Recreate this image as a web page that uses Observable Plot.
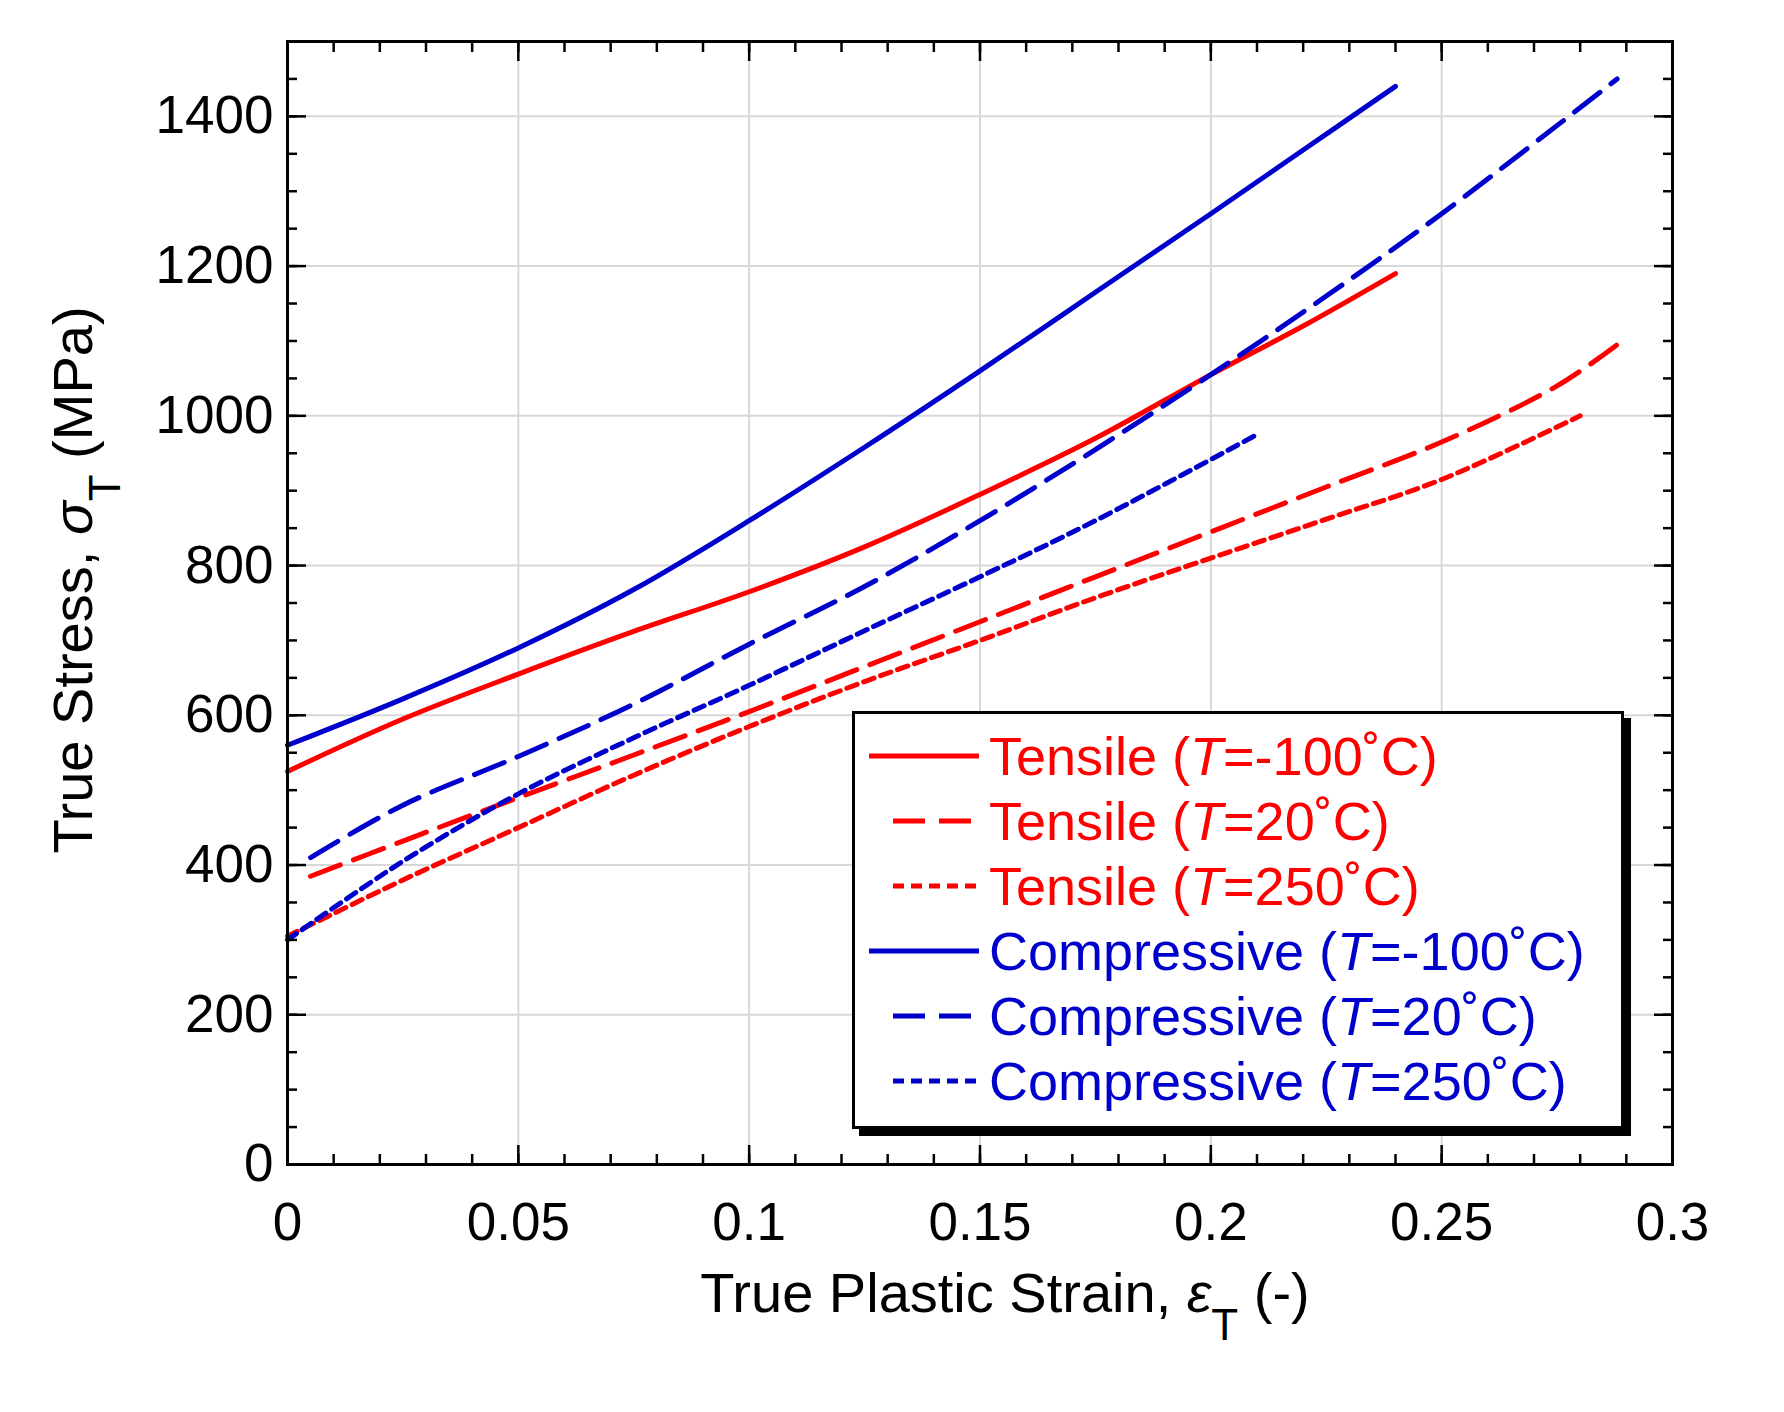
<!DOCTYPE html>
<html><head><meta charset="utf-8">
<script src="https://cdn.jsdelivr.net/npm/d3@7"></script>
<script src="https://cdn.jsdelivr.net/npm/@observablehq/plot@0.6"></script>
<style>
body{margin:0;background:#fff;font-family:"Liberation Sans",Arial,sans-serif}
#wrap{position:relative;width:1784px;height:1412px}
#legend{position:absolute;left:852px;top:711px;width:772px;height:418px;border:3px solid #000;background:#fff;box-shadow:7px 7px 0 #000;box-sizing:border-box}
</style></head><body>
<div id="wrap"><div id="chart"></div><div id="legend"></div></div>
<script>
const seriesNames = [["Tensile","-100˚C"],["Tensile","20˚C"],["Tensile","250˚C"],["Compressive","-100˚C"],["Compressive","20˚C"],["Compressive","250˚C"]];
const colors = ["#ff0000","#ff0000","#ff0000","#0000cc","#0000cc","#0000cc"];
const dashes = ["none","32,14","11,7","none","32,14","11,7"];
const tensileM100X = [0,0.025,0.05,0.075,0.1,0.125,0.15,0.175,0.2,0.22,0.24];
const tensileM100Y = [525,595,655,712,765,825,895,970,1055,1120,1190];
const tensile20X = [0.005,0.025,0.05,0.075,0.1,0.125,0.15,0.175,0.2,0.225,0.25,0.275,0.288];
const tensile20Y = [385,432,490,547,605,665,725,785,845,905,965,1040,1095];
const tensile250X = [0,0.025,0.05,0.075,0.1,0.125,0.15,0.175,0.2,0.225,0.25,0.28];
const tensile250Y = [305,380,450,520,585,645,700,757,810,862,915,1000];
const compM100X = [0,0.025,0.05,0.075,0.1,0.125,0.15,0.175,0.2,0.22,0.24];
const compM100Y = [560,622,690,768,860,958,1060,1165,1270,1355,1440];
const comp20X = [0.005,0.025,0.05,0.075,0.1,0.125,0.15,0.175,0.2,0.225,0.25,0.288];
const comp20Y = [410,480,545,615,695,772,860,955,1055,1160,1270,1450];
const comp250X = [0,0.025,0.05,0.075,0.1,0.125,0.15,0.175,0.21];
const comp250Y = [300,405,495,570,640,713,785,860,975];
const xs=[tensileM100X,tensile20X,tensile250X,compM100X,comp20X,comp250X];
const ys=[tensileM100Y,tensile20Y,tensile250Y,compM100Y,comp20Y,comp250Y];
const xMajor=[0,0.05,0.1,0.15,0.2,0.25,0.3], xMinor=d3.range(0,0.3001,0.01);
const yMajor=d3.range(0,1401,200), yMinor=d3.range(0,1501,50);
const lines = xs.map((x,i)=>Plot.line(x.map((v,j)=>({x:v,y:ys[i][j]})),{x:"x",y:"y",stroke:colors[i],strokeWidth:5,strokeDasharray:dashes[i],curve:"catmull-rom"}));
const tickAxes=[];
for(const a of ["bottom","top"]){tickAxes.push(Plot.axisX(xMinor,{anchor:a,tickSize:-10,text:null,label:null,strokeWidth:2.5}),Plot.axisX(xMajor,{anchor:a,tickSize:-19,text:null,label:null,strokeWidth:2.5}));}
for(const a of ["left","right"]){tickAxes.push(Plot.axisY(yMinor,{anchor:a,tickSize:-10,text:null,label:null,strokeWidth:2.5}),Plot.axisY(yMajor,{anchor:a,tickSize:-19,text:null,label:null,strokeWidth:2.5}));}
const chart = Plot.plot({
  width:1784,height:1412,marginLeft:287,marginRight:112,marginTop:41,marginBottom:248,
  style:{fontFamily:"Liberation Sans, Arial, sans-serif",fontSize:"53px",color:"#000",background:"#fff"},
  x:{domain:[0,0.3],label:null},y:{domain:[0,1500],label:null},
  marks:[
    Plot.gridX(xMajor,{stroke:"#d8d8d8",strokeOpacity:1,strokeWidth:2}),
    Plot.gridY(yMajor,{stroke:"#d8d8d8",strokeOpacity:1,strokeWidth:2}),
    ...lines,
    ...tickAxes,
    Plot.axisX(xMajor,{anchor:"bottom",tickSize:0,tickPadding:38,tickFormat:d=>String(d),label:null}),
    Plot.axisY(yMajor,{anchor:"left",tickSize:0,tickPadding:14,tickFormat:d=>String(d),label:null}),
    Plot.frame({stroke:"#000",strokeWidth:3})
  ]
});
document.getElementById("chart").append(chart);
const svg=d3.select(chart);
const xl=svg.append("text").attr("x",1005).attr("y",1312).attr("text-anchor","middle").attr("font-size",56).attr("fill","#000");
xl.append("tspan").text("True Plastic Strain, ");
xl.append("tspan").attr("font-style","italic").text("ε");
xl.append("tspan").attr("dy",28).attr("font-size",44).text("T");
xl.append("tspan").attr("dy",-28).text(" (-)");
const yl=svg.append("text").attr("transform","translate(92,580) rotate(-90)").attr("text-anchor","middle").attr("font-size",56).attr("fill","#000");
yl.append("tspan").text("True Stress, ");
yl.append("tspan").attr("font-style","italic").text("σ");
yl.append("tspan").attr("dy",28).attr("font-size",44).text("T");
yl.append("tspan").attr("dy",-28).text(" (MPa)");
const leg=d3.select("#legend");
seriesNames.forEach((s,i)=>{
  const row=leg.append("div").style("position","absolute").style("left","14px").style("top",(12+i*65)+"px").style("height","60px").style("display","flex").style("align-items","center");
  row.append("svg").attr("width",116).attr("height",20).append("line").attr("x1",i%3===0?0:24).attr("x2",110).attr("y1",10).attr("y2",10).attr("stroke",colors[i]).attr("stroke-width",5).attr("stroke-dasharray",dashes[i]);
  row.append("span").style("color",colors[i]).style("font-size","54px").style("margin-left","4px").style("white-space","nowrap").html(`${s[0]} (<i>T</i>=${s[1]})`);
});
</script></body></html>
